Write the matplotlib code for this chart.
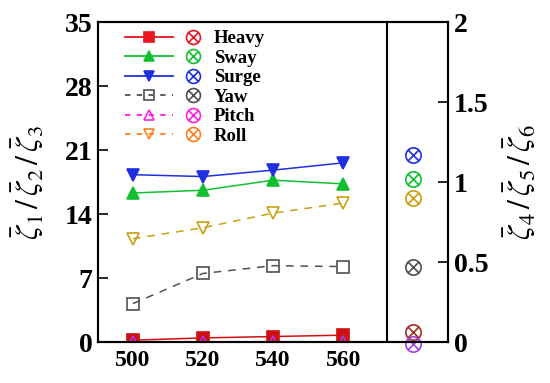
"""
Mean responses vs wave period, six DOFs, with right panel ⊗ reference values
"""
import numpy as np
import matplotlib
matplotlib.use('Agg')
import matplotlib.pyplot as plt
from matplotlib.lines import Line2D
from matplotlib.path import Path
from matplotlib.legend_handler import HandlerBase

plt.rcParams['font.family'] = 'Liberation Serif'
plt.rcParams['mathtext.fontset'] = 'stix'

x = [500, 520, 540, 560]
heavy = [0.2, 0.45, 0.6, 0.75]
sway = [16.3, 16.6, 17.7, 17.3]
surge = [18.3, 18.1, 18.8, 19.6]
yaw = [4.2, 7.5, 8.35, 8.25]
pitch = [0.05, 0.05, 0.05, 0.05]
roll = [11.3, 12.5, 14.1, 15.2]

names = ['Heavy', 'Sway', 'Surge', 'Yaw', 'Pitch', 'Roll']
# values on the right axis, drawn at x=580
right_x = 580
right_vals = [0.06, 1.02, 1.17, 0.47, -0.01, 0.9]

colors = ['#E8141E', '#10C030', '#2030E0', '#505050', '#FF20E0', '#FF8020']
plot_colors = ['#D01010', '#10C030', '#2030E0', '#505050', '#A040E0', '#C8A010']
right_colors = ['#A03020', '#10C030', '#2030E0', '#505050', '#A040E0', '#C8A010']
markers = ['s', '^', 'v', 's', '^', 'v']
filled = [True, True, True, False, False, False]
series = [heavy, sway, surge, yaw, pitch, roll]

# circle with a cross: ⊗
c = 0.7071
otimes = Path.make_compound_path(
    Path.unit_circle(),
    Path([(-c, -c), (c, c)], [Path.MOVETO, Path.LINETO]),
    Path([(-c, c), (c, -c)], [Path.MOVETO, Path.LINETO]),
)


class PairHandler(HandlerBase):
    def create_artists(self, legend, orig_handle, xdescent, ydescent,
                       width, height, fontsize, trans):
        i = orig_handle
        y = height / 2 - ydescent
        x0 = -xdescent
        ls = '-' if filled[i] else (0, (3, 3.5))
        ln = Line2D([x0, x0 + 0.63 * width], [y, y], color=colors[i], lw=1.3, ls=ls)
        mk = Line2D([x0 + 0.31 * width], [y], marker=markers[i], ms=7,
                    color=colors[i], mfc=colors[i] if filled[i] else 'none', mew=1.2)
        ot = Line2D([x0 + 0.89 * width], [y], marker=otimes, ms=10,
                    color=colors[i], mfc='none', mew=1.2, ls='none')
        for a in (ln, mk, ot):
            a.set_transform(trans)
        return [ln, mk, ot]


fig = plt.figure(figsize=(5.5, 3.83), dpi=100)
ax = fig.add_axes([0.178, 0.107, 0.637, 0.8355])
ax2 = ax.twinx()

for i, s in enumerate(series):
    ls = '-' if filled[i] else (0, (5, 4.5))
    ax.plot(x, s, color=plot_colors[i], lw=1.1, ls=ls, marker=markers[i],
            ms=8, mfc=plot_colors[i] if filled[i] else 'none', mew=1.2, zorder=3)

for i, v in enumerate(right_vals):
    ax2.plot([right_x], [v], marker=otimes, ms=11, color=right_colors[i],
             mfc='none', mew=1.2, ls='none', clip_on=False)

ax.axvline(572.5, color='black', lw=1.5)

ax.set_xlim(490, 590)
ax.set_ylim(0, 35)
ax2.set_ylim(0, 2)
ax.set_xticks([500, 520, 540, 560])
ax.set_yticks([0, 7, 14, 21, 28, 35])
ax2.set_yticks([0, 0.5, 1, 1.5, 2])
ax2.set_yticklabels(['0', '0.5', '1', '1.5', '2'])

for a in (ax, ax2):
    for sp in a.spines.values():
        sp.set_linewidth(1.5)
ax.tick_params(axis='x', length=0, labelsize=17, pad=6)
ax.tick_params(axis='y', direction='in', length=7, width=1.2, labelsize=20, pad=4)
ax2.tick_params(axis='y', direction='in', length=7, width=1.2, labelsize=20, pad=4)
for lab in ax.get_xticklabels() + ax.get_yticklabels() + ax2.get_yticklabels():
    lab.set_fontweight('bold')

ax.set_ylabel(r'$\bar{\zeta}_1\,/\,\bar{\zeta}_2\,/\,\bar{\zeta}_3$', fontsize=23, labelpad=14)
ax2.set_ylabel(r'$\bar{\zeta}_4\,/\,\bar{\zeta}_5\,/\,\bar{\zeta}_6$', fontsize=23, labelpad=9)

ax.legend(list(range(6)), names, handler_map={int: PairHandler()},
          loc='upper left', bbox_to_anchor=(0.077, 0.975), frameon=False,
          borderpad=0, borderaxespad=0, handlelength=4.1, handletextpad=0.65,
          labelspacing=0.13, prop={'weight': 'bold', 'size': 13.5})

fig.savefig('out.png', dpi=100)
